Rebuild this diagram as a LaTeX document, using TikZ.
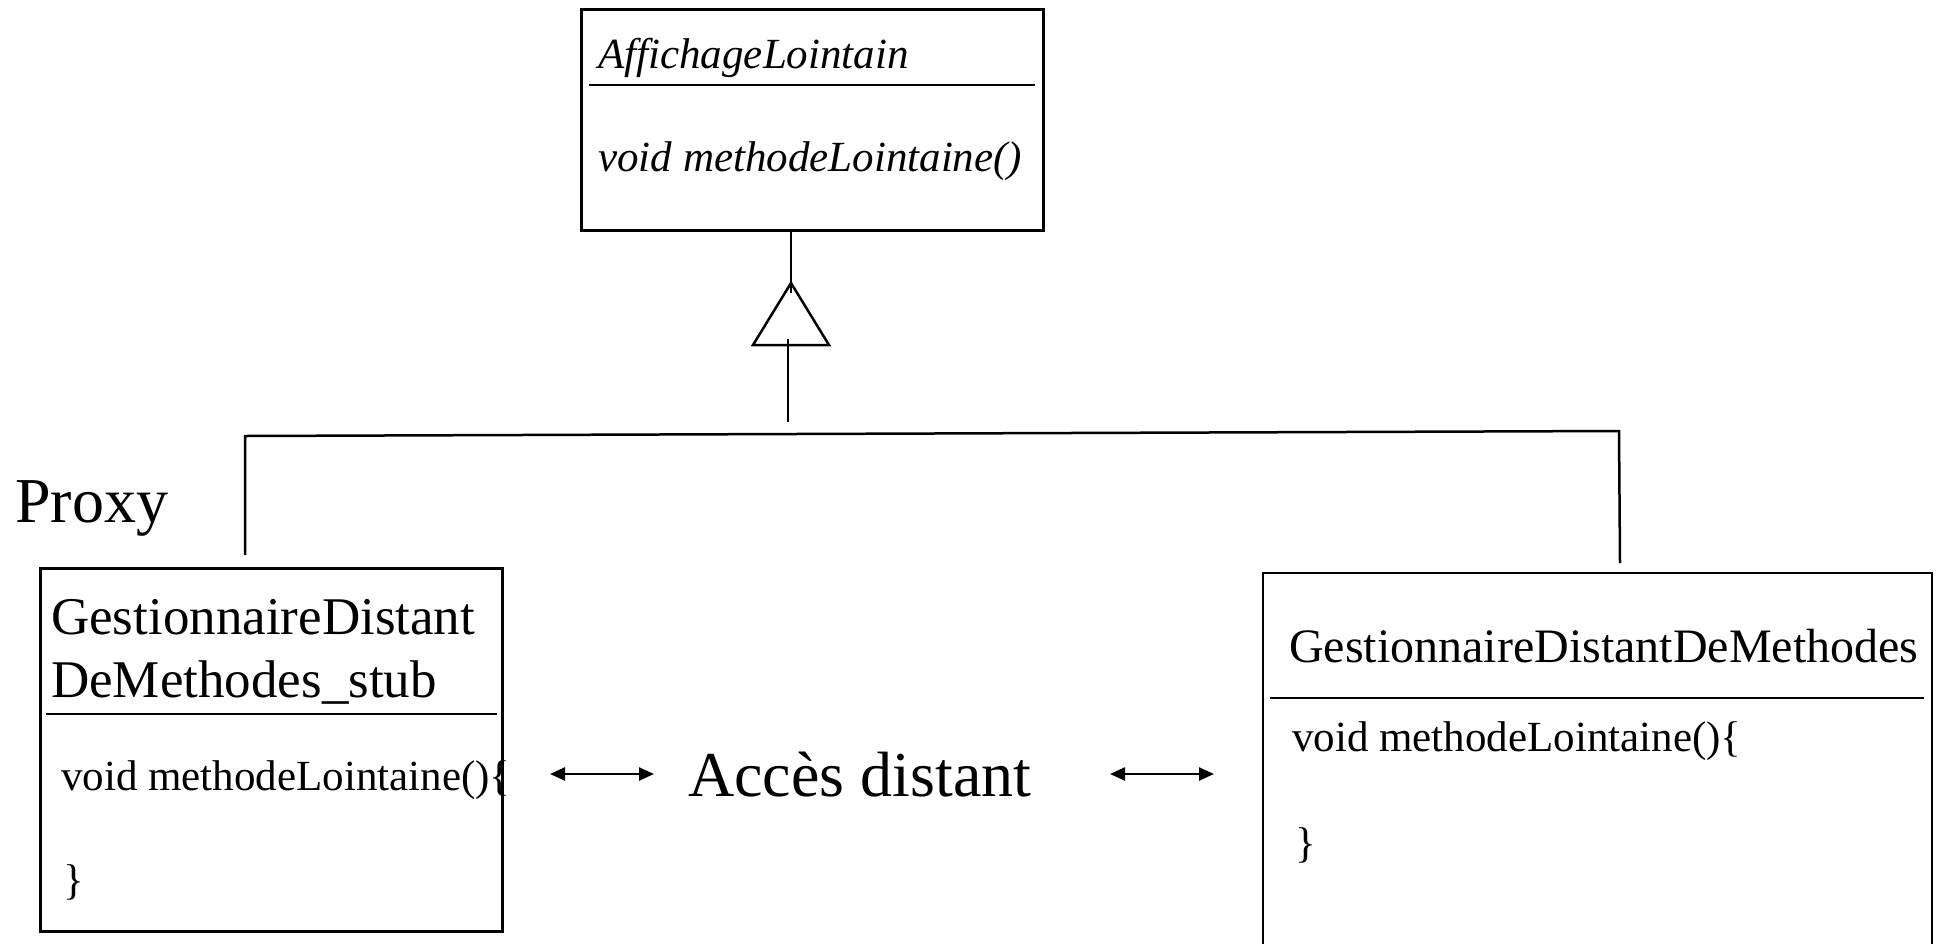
\documentclass[tikz,border=0pt]{standalone}
\usepackage{fontspec}
\setmainfont{Liberation Serif}
\usetikzlibrary{arrows.meta}
\begin{document}
\begin{tikzpicture}[x=1pt,y=-1pt,
  box/.style={draw, line width=2.6pt, inner sep=0pt, anchor=north west},
  sep/.style={line width=2.6pt},
  conn/.style={line width=2.5pt},
  txt/.style={inner sep=0pt, anchor=base west},
  dbl/.style={line width=2.5pt, {Triangle[length=15pt,width=13pt]}-{Triangle[length=15pt,width=13pt]}},
  fa/.style={font=\fontsize{43}{52}\selectfont\itshape},
  fb/.style={font=\fontsize{53}{63}\selectfont},
  fc/.style={font=\fontsize{43}{52}\selectfont},
  fd/.style={font=\fontsize{48}{58}\selectfont},
  fe/.style={font=\fontsize{64}{76}\selectfont}]
\useasboundingbox (0,0) rectangle (1941,943);
% top class
\node[box, minimum width=462pt, minimum height=221pt] (top) at (580,8) {};
\draw[sep] (589,85) -- (1035,85);
\node[txt, fa] (topname) at (598,68) {AffichageLointain};
\node[txt, fa] (topmeth) at (598,171) {void methodeLointaine()};
% generalization triangle
\coordinate (apex) at (791,283);
\coordinate (bl) at (753,345);
\coordinate (br) at (829,345);
\draw[conn] (apex) -- (bl) -- (br) -- cycle;
\coordinate (u2) at (791,293);
\draw[conn] (apex |- top.south) -- (u2);
\coordinate (l1) at (788,339);
\coordinate (l2) at (788,422);
\draw[conn] (l1) -- (l2);
% horizontal connector
\coordinate (hL) at (245,436);
\coordinate (hR) at (1619,431);
\coordinate (hL2) at (245,555);
\coordinate (hR2) at (1620,563);
\draw[conn] (hL2) -- (hL) -- (hR) -- (hR2);
% Proxy label
\node[txt, fe] (proxy) at (15,522) {Proxy};
% left class
\node[box, minimum width=462pt, minimum height=363pt] (stub) at (39,567) {};
\draw[sep] (46,714) -- (497,714);
\node[txt, fb] (stubn1) at (51,634) {GestionnaireDistant};
\node[txt, fb] (stubn2) at (51,697) {DeMethodes\_stub};
\node[txt, fc] (stubm) at (61,790) {void methodeLointaine()\{};
\node[txt, fc] (stubb) at (63,894) {\}};
% right class (bottom edge beyond picture)
\coordinate (rBL) at (1263,950);
\coordinate (rTL) at (1263,573);
\coordinate (rTR) at (1932,573);
\coordinate (rBR) at (1932,950);
\draw[line width=2.6pt] (rBL) -- (rTL) -- (rTR) -- (rBR);
\draw[sep] (1270,698) -- (1924,698);
\node[txt, fd] (srvn) at (1289,662) {GestionnaireDistantDeMethodes};
\node[txt, fc] (srvm) at (1292,751) {void methodeLointaine()\{};
\node[txt, fc] (srvb) at (1295,857) {\}};
% remote access
\node[txt, fe] (acc) at (688,796) {Accès distant};
\coordinate (a1) at (550,774);
\coordinate (a2) at (654,774);
\coordinate (b1) at (1110,774);
\coordinate (b2) at (1214,774);
\draw[dbl] (a1) -- (a2);
\draw[dbl] (b1) -- (b2);
\end{tikzpicture}
\end{document}
